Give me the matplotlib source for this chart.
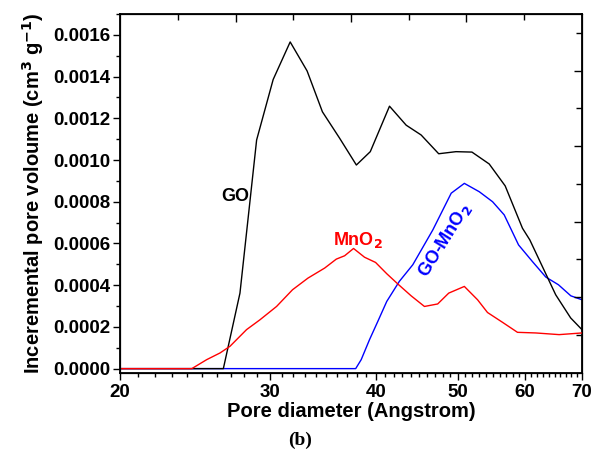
import matplotlib
matplotlib.use('Agg')
import matplotlib.pyplot as plt
from matplotlib.ticker import FixedLocator, NullFormatter, MultipleLocator

plt.rcParams['font.family'] = ['Liberation Sans', 'DejaVu Sans']
plt.rcParams['font.weight'] = 'bold'
plt.rcParams['mathtext.default'] = 'bf'

# Datos
go_x = [20, 26.46, 27.68, 28.96, 30.29, 31.72, 33.21, 34.62, 36.28, 37.96, 39.42,
        41.53, 43.45, 45.25, 47.46, 49.74, 51.94, 54.43, 56.84, 59.57, 60.77,
        65.19, 67.89, 70]
go_y = [0, 0, 0.000362, 0.001096, 0.001386, 0.001566, 0.001427, 0.001231, 0.001104,
        0.000976, 0.00104, 0.001258, 0.001167, 0.00112, 0.00103, 0.00104, 0.001038,
        0.000981, 0.000876, 0.000673, 0.000617, 0.000354, 0.000243, 0.000187]

mno2_x = [20, 24.29, 25.29, 26.22, 26.94, 28.18, 29.22, 30.57, 31.92, 33.29, 34.83,
          35.95, 36.77, 37.67, 38.81, 39.99, 41.22, 42.58, 44.04, 45.66, 47.33,
          48.77, 50.88, 52.74, 54.18, 56.43, 58.77, 61.76, 65.8, 70]
mno2_y = [0, 0, 0.000043, 0.000075, 0.000107, 0.000187, 0.000234, 0.000298, 0.000378,
          0.000434, 0.000482, 0.000525, 0.000541, 0.000576, 0.000534, 0.000509,
          0.000455, 0.000402, 0.000349, 0.000298, 0.00031, 0.000362, 0.000394,
          0.00033, 0.000269, 0.000222, 0.000174, 0.000171, 0.000163, 0.000171]

gomno2_x = [20, 37.89, 38.46, 39.34, 40.23, 41.22, 42.65, 44.24, 46.71, 49.1, 50.88,
            52.98, 54.93, 56.69, 58.94, 61.21, 63.46, 65.68, 67.92, 70]
gomno2_y = [0, 0, 0.000043, 0.000139, 0.000226, 0.000322, 0.000418, 0.000498,
            0.000665, 0.000841, 0.000888, 0.000848, 0.0008, 0.000737, 0.000593,
            0.000513, 0.000439, 0.000402, 0.000349, 0.00033]

xticks = [20, 30, 40, 50, 60, 70]
xminor = [x for x in range(21, 70) if x % 10 != 0]

fig = plt.figure(figsize=(5.92, 4.66), dpi=100)
ax = fig.add_axes([0.203, 0.200, 0.780, 0.770])

ax.plot(gomno2_x, gomno2_y, color='blue', lw=1.0, zorder=2)
ax.plot(go_x, go_y, color='black', lw=1.0, zorder=3)
ax.plot(mno2_x, mno2_y, color='red', lw=1.0, zorder=4)

ax.set_xscale('log')
ax.set_xlim(20, 70)
ax.set_ylim(-0.00002, 0.0017)
ax.xaxis.set_major_locator(FixedLocator(xticks))
ax.xaxis.set_minor_locator(FixedLocator(xminor))
ax.xaxis.set_major_formatter(matplotlib.ticker.FixedFormatter([str(x) for x in xticks]))
ax.xaxis.set_minor_formatter(NullFormatter())
ax.yaxis.set_major_locator(MultipleLocator(0.0002))
ax.yaxis.set_minor_locator(MultipleLocator(0.0001))
ax.yaxis.set_major_formatter(matplotlib.ticker.FormatStrFormatter('%.4f'))
ax.tick_params(which='major', direction='out', length=5, width=1, labelsize=13.5)
ax.tick_params(which='minor', direction='out', length=3, width=1)
ax.tick_params(axis='x', which='major', pad=3)
ax.tick_params(axis='y', which='major', pad=2)
for s in ax.spines.values():
    s.set_linewidth(1.3)

# ejes opuestos (lineales, solo marcas)
axt = ax.twiny()
axt.set_xlim(0, 8)
axt.xaxis.set_major_locator(FixedLocator([2, 4, 6]))
axt.xaxis.set_minor_locator(FixedLocator([1, 3, 5, 7]))
axt.tick_params(which='major', direction='in', length=6, width=1, labeltop=False)
axt.tick_params(which='minor', direction='in', length=4, width=1)

axr = ax.twinx()
axr.set_ylim(0, 9.5)
axr.yaxis.set_major_locator(FixedLocator([2, 4, 6, 8]))
axr.yaxis.set_minor_locator(FixedLocator([1, 3, 5, 7, 9]))
axr.tick_params(which='major', direction='in', length=6, width=1, labelright=False)
axr.tick_params(which='minor', direction='in', length=4, width=1)

ax.set_xlabel('Pore diameter (Angstrom)', fontsize=14.5, fontweight='bold', labelpad=1)
ax.set_ylabel('Inceremental pore voloume (cm$^{3}$ g$^{-1}$)', fontsize=14.5,
              fontweight='bold', labelpad=5)

ax.text(27.3, 0.000824, 'GO', color='black', fontsize=13, fontweight='bold',
        ha='center', va='center')
ax.text(38.13, 0.000617, 'MnO$_2$', color='red', fontsize=13, fontweight='bold',
        ha='center', va='center')
ax.text(48.2, 0.000617, 'GO-MnO$_2$', color='blue', fontsize=13, fontweight='bold',
        ha='center', va='center', rotation=58)

fig.text(0.507, 0.055, '(b)', family='Liberation Serif', fontsize=14,
         fontweight='bold', ha='center', va='center')

fig.savefig('out.png', dpi=100)
